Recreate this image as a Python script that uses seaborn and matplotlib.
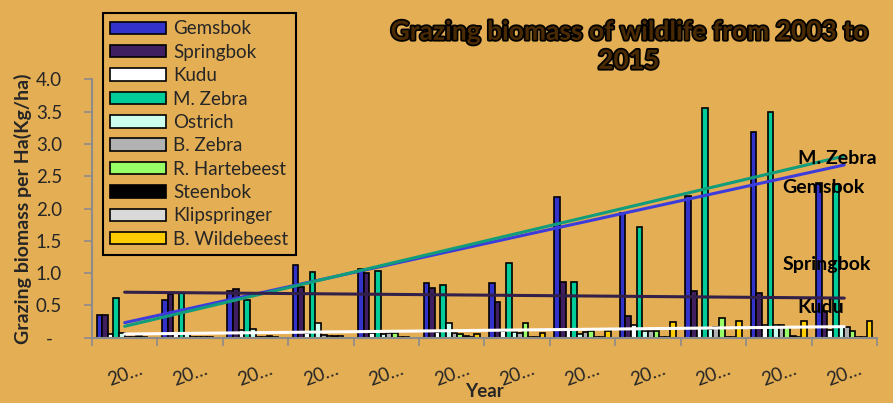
import numpy as np
import pandas as pd
import seaborn as sns
import matplotlib.pyplot as plt
import matplotlib.patheffects as pe

# data (12 years, labels truncated as in the original)
years = ["20…"] * 12
species = ["Gemsbok", "Springbok", "Kudu", "M. Zebra", "Ostrich", "B. Zebra",
           "R. Hartebeest", "Steenbok", "Klipspringer", "B. Wildebeest"]
gemsbok = [0.35, 0.59, 0.73, 1.12, 1.07, 0.85, 0.85, 2.18, 1.93, 2.20, 3.19, 2.39]
springbok = [0.35, 0.68, 0.75, 0.79, 1.00, 0.77, 0.55, 0.87, 0.33, 0.72, 0.69, 0.41]
kudu = [0.05, 0.06, 0.12, 0.08, 0.08, 0.09, 0.10, 0.12, 0.20, 0.15, 0.20, 0.12]
m_zebra = [0.62, 0.70, 0.59, 1.01, 1.04, 0.82, 1.15, 0.87, 1.72, 3.55, 3.49, 2.38]
ostrich = [0.08, 0.07, 0.13, 0.23, 0.06, 0.23, 0.09, 0.05, 0.11, 0.14, 0.20, 0.17]
b_zebra = [0.01, 0.015, 0.01, 0.04, 0.08, 0.07, 0.08, 0.09, 0.11, 0.17, 0.20, 0.17]
r_hartebeest = [0.01, 0.015, 0.005, 0.03, 0.08, 0.05, 0.23, 0.11, 0.11, 0.30, 0.17, 0.11]
steenbok = [0.03, 0.01, 0.025, 0.03, 0.01, 0.02, 0.01, 0.01, 0.01, 0.01, 0.02, 0.01]
klipspringer = [0.015, 0.01, 0.01, 0.02, 0.01, 0.01, 0.01, 0.01, 0.01, 0.01, 0.01, 0.01]
b_wildebeest = [0.0, 0.0, 0.0, 0.0, 0.0, 0.06, 0.07, 0.11, 0.24, 0.26, 0.26, 0.26]

colors = ["#3333CC", "#3F1F5F", "#FFFFFF", "#00CC99", "#CCFFEE", "#B2B2B2",
          "#99FF66", "#000000", "#D9D9D9", "#FFCC00"]
bg = "#E4AE54"

values = [gemsbok, springbok, kudu, m_zebra, ostrich, b_zebra,
          r_hartebeest, steenbok, klipspringer, b_wildebeest]
rows = []
for sp, vals in zip(species, values):
    for i, v in enumerate(vals):
        rows.append({"idx": i, "species": sp, "value": v})
df = pd.DataFrame(rows)

sns.set_style("ticks")
plt.rcParams["font.family"] = ["Lato", "DejaVu Sans"]

fig = plt.figure(figsize=(8.93, 4.03), dpi=100, facecolor=bg)
ax = fig.add_axes([0.103, 0.162, 0.879, 0.641])
ax.set_facecolor(bg)

sns.barplot(data=df, x="idx", y="value", hue="species", hue_order=species,
            palette=colors, saturation=1, width=0.86, edgecolor="black",
            linewidth=1.2, ax=ax, legend=True)

# linear trend lines (Excel-style)
trend = [(gemsbok, "#3C3CDC"), (m_zebra, "#119C7C"),
         (springbok, "#33204A"), (kudu, "#FFFFFF")]
xs = np.arange(12)
for vals, c in trend:
    sns.regplot(x=xs, y=np.array(vals), scatter=False, ci=None, ax=ax,
                line_kws={"color": c, "lw": 2.2})

lab_kw = dict(fontsize=14, fontweight="bold", color="black")
ax.text(10.3, 2.78, "M. Zebra", va="center", **lab_kw)
ax.text(10.05, 2.32, "Gemsbok", va="center", **lab_kw)
ax.text(10.05, 1.13, "Springbok", va="center", **lab_kw)
ax.text(10.28, 0.47, "Kudu", va="center", **lab_kw)

ax.set_xlim(-0.5, 11.5)
ax.set_ylim(0, 4.0)
ax.set_yticks(np.arange(0, 4.01, 0.5))
ax.set_yticklabels(["-"] + [f"{v:.1f}" for v in np.arange(0.5, 4.01, 0.5)],
                   fontsize=13.5, ha="center")
ax.set_xticks(np.arange(-0.5, 12, 1.0))
ax.set_xticklabels([])
ax.tick_params(axis="x", length=6, color="#8C8C8C", width=1.2)
ax.tick_params(axis="y", length=6, color="#8C8C8C", width=1.2, pad=25)
for i, t in enumerate(years):
    ax.text(i, -0.58, t, ha="center", va="center", rotation=20, fontsize=13.5)

for s in ["top", "right"]:
    ax.spines[s].set_visible(False)
for s in ["left", "bottom"]:
    ax.spines[s].set_color("#8C8C8C")
    ax.spines[s].set_linewidth(1.5)

ax.set_xlabel("Year", fontsize=13.5, fontweight="bold", labelpad=23)
ax.set_ylabel("Grazing biomass per Ha(Kg/ha)", fontsize=14, fontweight="bold",
              labelpad=3)

leg = ax.legend(loc="upper left", bbox_to_anchor=(0.115, 0.968),
                bbox_transform=fig.transFigure, fontsize=13.5,
                frameon=True, fancybox=False, edgecolor="black",
                facecolor=bg, framealpha=1, handlelength=3.0,
                handleheight=0.65, labelspacing=0.34, borderpad=0.4,
                handletextpad=0.35, borderaxespad=0)
leg.get_frame().set_linewidth(1.5)

fig.text(0.704, 0.885, "Grazing biomass of wildlife from 2003 to\n2015",
         ha="center", va="center", fontsize=19, fontweight="bold",
         color="#4A2A00", linespacing=1.25,
         path_effects=[pe.withStroke(linewidth=2.5, foreground="black")])

fig.savefig("out.png", dpi=100, facecolor=bg)
